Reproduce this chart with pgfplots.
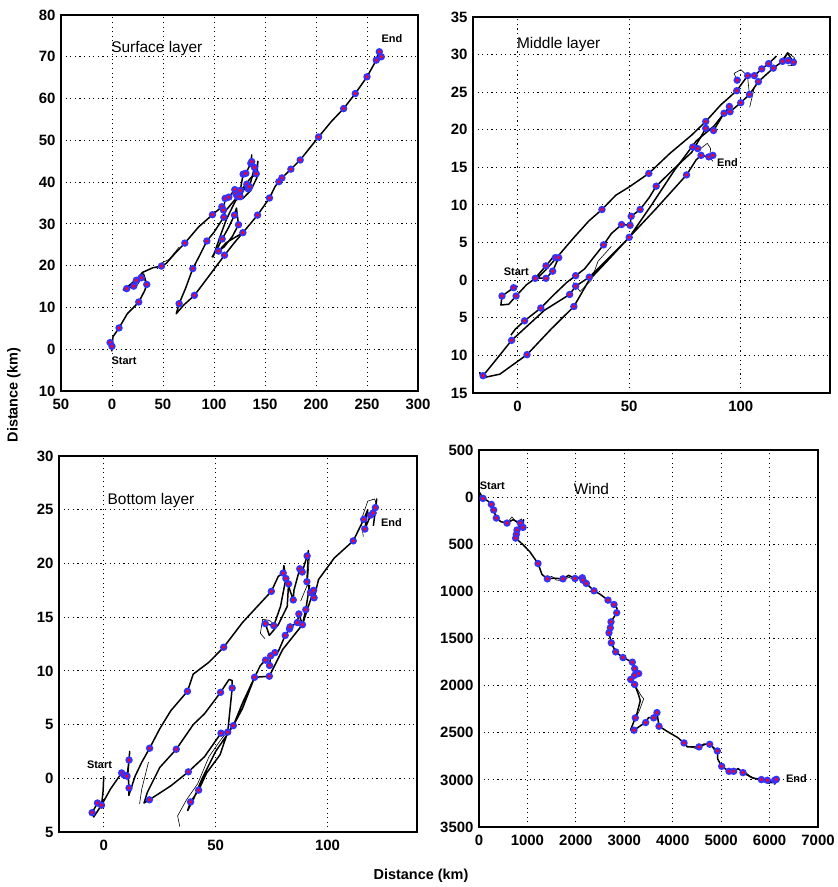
\documentclass[border=0pt]{standalone}
\usepackage{fontspec}
\setmainfont{Liberation Sans}
\usepackage{pgfplots}
\pgfplotsset{compat=1.18}
\definecolor{mkblue}{rgb}{0.2,0.2,1}
\definecolor{mkred}{rgb}{1,0,0.1}
\pgfplotsset{
 panel/.style={scale only axis, axis line style={line width=1.2bp},
   grid=major, major grid style={black, line width=1bp, dash pattern=on 1.1bp off 3.5bp},
   major tick length=0pt, minor tick num=0,
   tick label style={font=\fontsize{15}{15}\selectfont\bfseries},
   xticklabel style={yshift=-5bp},
   yticklabel style={xshift=-2bp},
   clip=true},
 traj/.style={black, line width=1.5bp, no markers, line join=round},
 thin/.style={black, line width=0.6bp, no markers, line join=round},
 dots/.style={only marks, mark=*, mark size=2.7bp, mark options={draw=mkblue, fill=mkred, line width=1.9bp}},
}
\newcommand{\ttl}{\fontsize{15.5}{15.5}\selectfont}
\newcommand{\se}{\fontsize{11}{11}\selectfont\bfseries}
\begin{document}
\begin{tikzpicture}
\useasboundingbox (0,0) rectangle (838bp,-887bp);
% ---------------- Surface layer
\begin{axis}[panel, at={(61bp,-15bp)}, anchor=north west, width=357bp, height=376bp,
  xmin=-50, xmax=300, ymin=-10, ymax=80,
  xtick={-50,0,50,100,150,200,250,300}, xticklabels={50,0,50,100,150,200,250,300},
  ytick={-10,0,10,20,30,40,50,60,70,80}, yticklabels={10,0,10,20,30,40,50,60,70,80}]
\addplot[traj] coordinates {(0,-0.5) (-1.9,1.6) (0,0.7) (1,3) (6.9,5.1) (15,8.5) (22,10.2) (26.2,11.3) (32,14) (34.1,15.5) (31,18) (28.8,17.1) (23.9,16.5) (21.3,15.1) (14.4,14.5) (11,14.2) (17,15.3) (24,16.8) (30,18.4) (40,19.5) (48.5,19.9) (53,20.5) (62,23) (71.4,25.4) (85,29.3) (98.5,32.2) (107.7,34.1) (109.3,33.3) (110.9,36.1) (114.5,36.4) (120.4,38.2) (121.4,37.2) (125.7,38) (128.6,41.9) (131.2,42.1) (136.1,44.5) (137,46.5) (137,44.9) (139.7,43.5) (134.8,38.9) (133.5,38.4) (132.2,39.5) (125.7,36.5) (123,36.5) (116,34.5) (111,33) (109.6,31.6) (100,28) (93,25.9) (85,22) (79.2,19.3) (72,14.5) (65.8,10.9) (63,8.5) (70,10.5) (80.8,12.9) (95,17.5) (110.3,22.5) (120,25.5) (128.3,27.9) (142.7,32.1) (154.4,36.2) (160,39) (163.6,40.1) (166.6,41) (175.4,43.1) (184.5,45.3) (202.5,50.8) (215,54.5) (227.1,57.6) (238.5,61.2) (250,65.2) (259.1,69.2) (262,71.6) (262.1,71.2) (264,70) (261,70.5)};
\addplot[traj] coordinates {(98,22) (103,24) (108,26.4) (114,29) (120.1,32.1) (122,33.8) (124,29.8) (118,27) (110,24.5) (104.4,23.5) (112,25.5) (128.3,27.9)};
\addplot[traj] coordinates {(99,22) (106,27) (112,31) (120,35) (128,38.5) (136,41) (141.4,42) (143,45) (142,41) (136,38) (128,36)};
\addplot[thin] coordinates {(14,14.2) (19,15.5) (23,14.6) (27,16.2) (30,17.5) (33,16)};
\addplot[thin] coordinates {(44,19.2) (50,20.8) (56,21.5) (66,24.5)};
\addplot[dots] coordinates {(-1.9,1.6) (0,0.7) (6.9,5.1) (26.2,11.3) (34.1,15.5) (28.8,17.1) (23.9,16.5) (21.3,15.1) (14.4,14.5) (48.5,19.9) (71.4,25.4) (98.5,32.2) (107.7,34.1) (109.3,33.3) (109.6,31.6) (110.9,36.1) (114.5,36.4) (120.4,38.2) (121.4,37.2) (123,36.5) (125.7,38) (125.7,36.5) (128.6,41.9) (131.2,42.1) (132.2,39.5) (133.5,38.4) (134.8,38.9) (136.1,44.5) (137,44.9) (139.7,43.5) (141.4,42) (120.1,32.1) (124,29.8) (108,26.4) (104.4,23.5) (110.3,22.5) (128.3,27.9) (93,25.9) (79.2,19.3) (65.8,10.9) (80.8,12.9) (142.7,32.1) (154.4,36.2) (163.6,40.1) (166.6,41) (175.4,43.1) (184.5,45.3) (202.5,50.8) (227.1,57.6) (238.5,61.2) (250,65.2) (259.1,69.2) (262.1,71.2) (264,70)};
\node[font=\ttl] at (axis cs:43.9,72) {Surface layer};
\node[font=\se] at (axis cs:11.8,-2.8) {Start};
\node[font=\se] at (axis cs:274.5,74.4) {End};
\end{axis}
% ---------------- Middle layer
\begin{axis}[panel, at={(473bp,-17bp)}, anchor=north west, width=357bp, height=376bp,
  xmin=-20, xmax=140, ymin=-15, ymax=35,
  xtick={0,50,100}, xticklabels={0,50,100},
  ytick={-15,-10,-5,0,5,10,15,20,25,30,35}, yticklabels={15,10,5,0,5,10,15,20,25,30,35}]
\addplot[traj] coordinates {(0,-0.8) (-1.8,-1) (-7,-2.1) (-7.5,-3.3) (-4,-3.2) (-0.7,-2.1) (4,-0.6) (7.9,0.25) (10,1) (12.7,1.9) (15.7,3) (16.9,3.2) (18.4,3.0) (15.7,1.2) (12.7,0.25) (9,0.3) (13,1.5) (18.4,3.3) (25,5.6) (32,7.9) (37.8,9.4) (44,11.3) (50,12.4) (58.8,14.2) (68,16.8) (78,19.3) (84.3,21.1) (91,23.3) (98.2,25.2) (103.1,27.2) (106.1,27.2) (109.4,28.1) (112.5,28.8) (116,29.8)};
\addplot[traj] coordinates {(118.7,29.1) (121,30.2) (123.6,29) (121.2,29.2) (118.7,29.1) (114.6,28.2) (107.9,26.4) (103.9,24.7) (100,23.6) (95.2,22.4) (92.5,22.2) (87.8,19.9) (84.3,20.2) (82,19) (78,17) (70,14.8) (62.1,12.5) (59,11) (54.9,9.4) (50.9,8.5) (50.4,7.3) (46.6,7.4) (42,6.2) (38.5,4.7) (30,1.5) (26,0.6) (22,-0.3) (16,-2) (10.4,-3.7) (3.1,-5.4) (-1,-6.5) (-3,-7.3)};
\addplot[traj] coordinates {(95,23.1) (88,20.5) (80,18.5) (70,14.5) (60,10) (50,5.7) (40,2.7) (32.1,0.4) (26,-0.8) (23.3,-1.9) (12,-4) (-2.7,-8) (-10,-10.7) (-15.5,-12.7) (-17,-12.3) (-16,-13) (-8,-12.5) (4.2,-9.9) (15,-6.5) (25.2,-3.5) (32,0) (40,2.5) (50,5.7) (62,9.5) (75.7,14) (80,16) (82.2,16.6) (85.7,16.4) (87.5,16.6)};
\addplot[thin] coordinates {(98.4,26.6) (97,27.5) (100,28) (103,27.2) (103.9,24.7) (106,25.5) (104,23)};
\addplot[thin] coordinates {(82,17.5) (85,18.2) (86.5,17.5) (86,16.4) (87.5,15.8)};
\addplot[thin] coordinates {(25,-0.3) (28,-1.5) (33,0) (36,2.5) (42,4.5)};
\addplot[thin] coordinates {(119,29.5) (121,30.3) (124,29.6) (124.5,28.6) (121,28.5)};
\addplot[dots] coordinates {(-7,-2.1) (-1.8,-1) (-0.7,-2.1) (7.9,0.25) (12.7,1.9) (12.7,0.25) (15.7,1.2) (16.9,3) (18.4,3) (26,0.6) (26,-0.8) (32.1,0.4) (23.3,-1.9) (25.2,-3.5) (10.4,-3.7) (3.1,-5.4) (-2.7,-8) (4.2,-9.9) (-15.5,-12.7) (37.8,9.4) (38.5,4.7) (46.6,7.4) (50.9,8.5) (50.4,7.3) (54.9,9.4) (50,5.7) (58.8,14.2) (62.1,12.5) (75.7,14) (78.5,17.7) (80.7,17.5) (82.2,16.6) (85.7,16.4) (87.5,16.6) (84.3,21.1) (84.3,20.2) (87.8,19.9) (92.5,22.2) (94.9,23.1) (95.2,22.4) (100,23.6) (98.2,25.2) (98.4,26.6) (103.9,24.7) (103.1,27.2) (106.1,27.2) (107.9,26.4) (109.4,28.1) (112.5,28.8) (114.6,28.2) (118.7,29.1) (121.2,29.2) (123.6,29)};
\node[font=\ttl] at (axis cs:18.4,31.4) {Middle layer};
\node[font=\se] at (axis cs:-0.6,1.1) {Start};
\node[font=\se] at (axis cs:94,15.6) {End};
\end{axis}
% ---------------- Bottom layer
\begin{axis}[panel, at={(59bp,-456bp)}, anchor=north west, width=358bp, height=376bp,
  xmin=-20, xmax=140, ymin=-5, ymax=30,
  xtick={0,50,100}, xticklabels={0,50,100},
  ytick={-5,0,5,10,15,20,25,30}, yticklabels={5,0,5,10,15,20,25,30}]
\addplot[traj] coordinates {(0,0.2) (-0.3,-1.2) (-1,-2.5) (-2.8,-2.3) (-5.2,-3.2) (-4.5,-3.6) (-1,-2.5) (3,-1) (8,0.5) (9.1,0.3) (10.4,0.2) (11.3,1.7) (11.6,2.5) (10.8,0.5) (11.3,-0.9) (11.2,-1.6) (14,0.2) (17,1.5) (20.5,2.8) (25,4.6) (30,6.3) (37.4,8.1) (40,9.7) (47,10.8) (53.6,12.2) (62,14.5) (70,16.3) (74.9,17.4) (78,18.8) (80.2,19.1) (80.5,19.8) (81.4,18.6) (82.6,18.1) (82,16) (78,14.3) (74,13.3) (72.2,14.4) (76,14.2) (79,16) (81.4,18.6) (84.7,16.6) (85,17.5) (87.6,19.5) (88.7,19.2) (90.9,20.7) (91.5,21.2) (90.8,18.3) (92.4,17.3) (93.8,17.5) (94,16.8) (96,18.5) (103,20.5) (111.5,22.1) (116.2,24.1) (118,25) (116.7,23.2) (119.3,24.5) (120.4,24.7) (121.4,25.2) (122,26) (120.5,23.5)};
\addplot[traj] coordinates {(92,18) (90.3,15.7) (88.8,14.3) (87.2,15.3) (86.5,14.5) (83.3,14.1) (83,13.9) (81.1,13.3) (78,11.8) (76.5,11.7) (74.6,11.4) (74.1,10.5) (72.3,11) (70,10.5) (67.4,9.4) (62,6.5) (57.9,4.9) (55.4,4.3) (52.4,4.2) (45,2) (37.8,0.6) (30,-0.7) (20.4,-2) (18,-2.3) (19.5,-1.3) (25,1) (32.4,2.7) (40,5) (45,6) (52.2,8) (56,9.2) (57.4,9.1) (57.4,8.4) (55.4,4.3) (52,2.2) (46,0.5) (42.4,-1.1) (38.8,-2.2) (37.5,-3) (40,-2) (44,0) (50,2.5) (57.9,4.9) (62,7) (67.4,9.4) (74,9.5) (80,12) (88.8,14.3) (93.8,17.5)};
\addplot[thin] coordinates {(34,-4.5) (33,-3.5) (37,-2) (42,-0.5) (47,2) (52,3.5) (55,4.3)};
\addplot[thin] coordinates {(72,13) (70,13.5) (71,14.8) (74,14.7) (77,14.2)};
\addplot[thin] coordinates {(91,21) (92,20.8) (91,18) (88,16.5)};
\addplot[thin] coordinates {(116,22.5) (115,24) (118,25.8) (121,26) (122,25.5)};
\addplot[thin] coordinates {(16,-2.4) (17,-1) (20,1.5)};
\addplot[dots] coordinates {(-5.2,-3.2) (-2.8,-2.3) (-1,-2.5) (8,0.5) (9.1,0.3) (10.4,0.2) (11.3,1.7) (11.3,-0.9) (20.5,2.8) (20.4,-2) (32.4,2.7) (37.8,0.6) (37.4,8.1) (42.4,-1.1) (38.8,-2.2) (52.2,8) (57.4,8.4) (52.4,4.2) (55.4,4.3) (57.9,4.9) (53.6,12.2) (67.4,9.4) (74,9.5) (72.3,11) (74.1,10.5) (74.6,11.4) (76.5,11.7) (74.9,17.4) (72.2,14.4) (76,14.2) (80.2,19.1) (81.4,18.6) (82.6,18.1) (84.7,16.6) (81.1,13.3) (83,13.9) (83.3,14.1) (86.5,14.5) (87.2,15.3) (88.8,14.3) (87.6,19.5) (88.7,19.2) (90.9,20.7) (90.8,18.3) (90.3,15.7) (92.4,17.3) (93.8,17.5) (94,16.8) (111.5,22.1) (116.2,24.1) (116.7,23.2) (119.3,24.5) (120.4,24.7) (121.4,25.2)};
\node[font=\ttl] at (axis cs:21.1,25.9) {Bottom layer};
\node[font=\se] at (axis cs:-1.9,1.3) {Start};
\node[font=\se] at (axis cs:128.6,23.8) {End};
\end{axis}
% ---------------- Wind
\begin{axis}[panel, at={(479bp,-450bp)}, anchor=north west, width=339bp, height=377bp,
  xmin=0, xmax=7000, ymin=-3500, ymax=500,
  xtick={0,1000,2000,3000,4000,5000,6000,7000}, xticklabels={0,1000,2000,3000,4000,5000,6000,7000},
  ytick={-3500,-3000,-2500,-2000,-1500,-1000,-500,0,500}, yticklabels={3500,3000,2500,2000,1500,1000,500,0,500}]
\addplot[traj] coordinates {(0,60) (83,-14) (180,-40) (255,-77) (303,-137) (358,-222) (450,-260) (578,-275) (700,-240) (853,-275) (909,-321) (920,-240) (785,-349) (771,-396) (700,-440) (757,-435) (900,-500) (1050,-580) (1218,-704) (1300,-820) (1411,-867) (1550,-860) (1734,-867) (1850,-830) (1982,-863) (2134,-856) (2147,-881) (2216,-916) (2375,-994) (2500,-1030) (2664,-1093) (2788,-1139) (2850,-1180) (2843,-1227) (2726,-1323) (2712,-1387) (2684,-1440) (2732,-1546) (2822,-1642) (2973,-1702) (3166,-1751) (3214,-1819) (3297,-1872) (3214,-1890) (3132,-1935) (3214,-1988) (3290,-2090) (3330,-2160) (3260,-2300) (3228,-2342) (3130,-2470) (3200,-2473) (3350,-2420) (3441,-2392) (3500,-2340) (3607,-2342) (3675,-2286) (3717,-2431) (3900,-2490) (4100,-2550) (4233,-2608) (4300,-2650) (4543,-2650) (4650,-2620) (4763,-2622) (4921,-2693) (4930,-2780) (5011,-2856) (5162,-2909) (5258,-2909) (5350,-2880) (5451,-2923) (5650,-2980) (5830,-2997) (5954,-3004) (6050,-3030) (6105,-3004) (6140,-2994) (6100,-3050)};
\addplot[thin] coordinates {(3214,-1988) (3340,-2100) (3400,-2140) (3300,-2280) (3228,-2342)};
\addplot[thin] coordinates {(1411,-867) (1500,-840) (1600,-880) (1734,-885) (1850,-850) (1982,-880) (2100,-830) (2216,-930)};
\addplot[thin] coordinates {(578,-275) (680,-210) (780,-270) (880,-230) (909,-321)};
\addplot[thin] coordinates {(4300,-2640) (4500,-2670) (4763,-2605) (4850,-2680)};
\addplot[thin] coordinates {(5451,-2900) (5600,-2960) (5800,-3010) (6000,-3040) (6150,-2970)};
\addplot[dots] coordinates {(83,-14) (255,-77) (303,-137) (358,-222) (578,-275) (853,-275) (909,-321) (785,-349) (771,-396) (757,-435) (1218,-704) (1411,-867) (1734,-867) (1982,-863) (2134,-856) (2147,-881) (2216,-916) (2375,-994) (2664,-1093) (2788,-1139) (2843,-1227) (2726,-1323) (2712,-1387) (2684,-1440) (2732,-1546) (2822,-1642) (2973,-1702) (3166,-1751) (3214,-1819) (3297,-1872) (3214,-1890) (3132,-1935) (3214,-1988) (3228,-2342) (3200,-2473) (3441,-2392) (3607,-2342) (3675,-2286) (3717,-2431) (4233,-2608) (4543,-2650) (4763,-2622) (4921,-2693) (5011,-2856) (5162,-2909) (5258,-2909) (5451,-2923) (5830,-2997) (5954,-3004) (6105,-3004) (6140,-2994)};
\node[font=\ttl] at (axis cs:2320,85) {Wind};
\node[font=\se] at (axis cs:275,121) {Start};
\node[font=\se] at (axis cs:6553,-2990) {End};
\end{axis}
% ---------------- shared axis labels
\node[font=\fontsize{14.5}{14.5}\selectfont\bfseries, rotate=90] at (14bp,-395bp) {Distance (km)};
\node[font=\fontsize{14.5}{14.5}\selectfont\bfseries] at (421bp,-876bp) {Distance (km)};
\end{tikzpicture}
\end{document}
